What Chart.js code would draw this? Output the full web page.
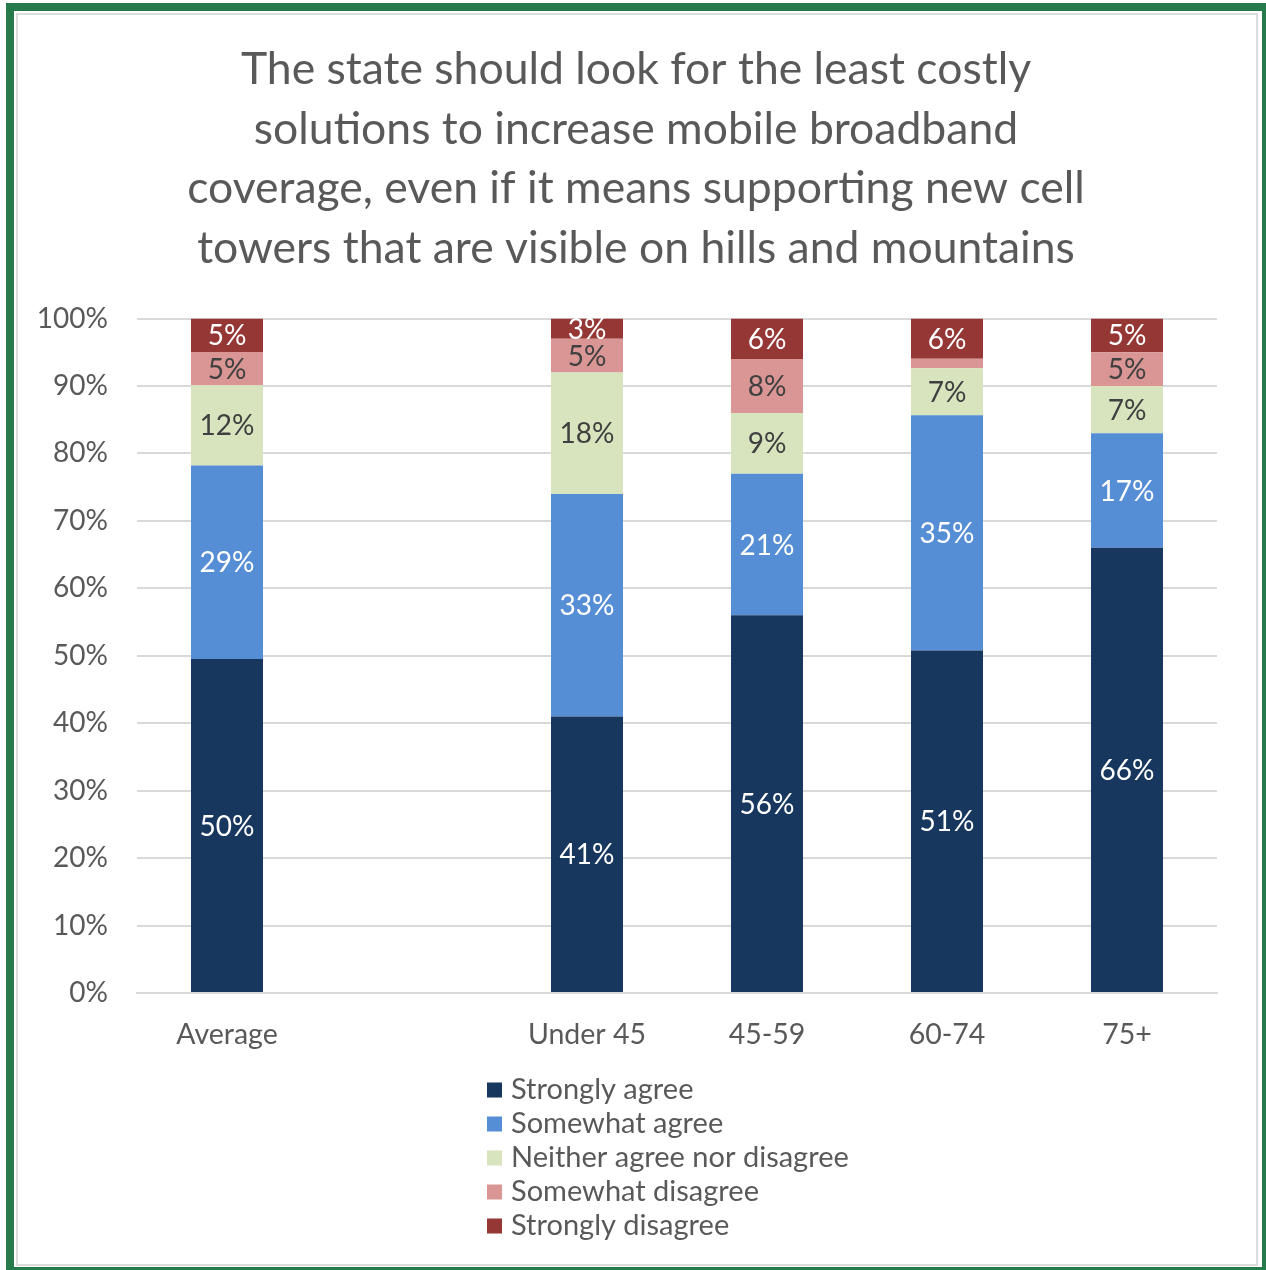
<!DOCTYPE html>
<html>
<head>
<meta charset="utf-8">
<script src="https://cdn.jsdelivr.net/npm/chart.js@4.4.1/dist/chart.umd.min.js"></script>
<style>
  html, body { margin: 0; padding: 0; background: #fff; }
  body { width: 1266px; height: 1270px; position: relative; overflow: hidden; }
  .marco { position: absolute; left: 6px; top: 3px; width: 1264px; height: 1272px;
           box-sizing: border-box; border: 8px solid #267a4c; }
  .interior { position: absolute; left: 16px; top: 13px; width: 1242px; height: 1253px;
              box-sizing: border-box; border: 2px solid #dcdcdc; }
  #grafica { position: absolute; left: 0; top: 0; }
</style>
</head>
<body>
<div class="marco"></div>
<div class="interior"></div>
<canvas id="grafica" width="1266" height="1270"></canvas>
<script>
"use strict";
/* DATOS */
const grupos = ["Average", "", "Under 45", "45-59", "60-74", "75+"];
const muyDeAcuerdo = [50, null, 41, 56, 51, 66];
const algoDeAcuerdo = [29, null, 33, 21, 35, 17];
const neutral = [12, null, 18, 9, 7, 7];
const algoEnDesacuerdo = [5, null, 5, 8, 1.4, 5];
const muyEnDesacuerdo = [5, null, 3, 6, 6, 5];
const marcasEjeY = [0, 10, 20, 30, 40, 50, 60, 70, 80, 90, 100];
const titulo = [
    "The state should look for the least costly",
    "solutions to increase mobile broadband",
    "coverage, even if it means supporting new cell",
    "towers that are visible on hills and mountains"
];

const FUENTE = "Lato, 'Open Sans', sans-serif";
const GRIS_TEXTO = "#595959";

/* 100% APILADO: cada columna se reparte sobre su total */
const series = [muyDeAcuerdo, algoDeAcuerdo, neutral, algoEnDesacuerdo, muyEnDesacuerdo];
const totales = grupos.map((_, i) => series.reduce((s, arr) => s + (arr[i] ?? 0), 0));
function aPorcentaje(arr) {
    return arr.map((v, i) => v === null ? null : v / totales[i] * 100);
}

function dataset(nombre, valores, color, colorTexto) {
    return {
        label: nombre,
        data: aPorcentaje(valores),
        crudos: valores,
        backgroundColor: color,
        colorTexto: colorTexto,
        borderWidth: 0,
        barPercentage: 0.4,
        categoryPercentage: 1.0
    };
}

/* ETIQUETAS DE VALOR */
const etiquetasValor = {
    id: "etiquetasValor",
    afterDatasetsDraw(chart) {
        const ctx = chart.ctx;
        ctx.save();
        ctx.font = "28px " + FUENTE;
        ctx.textAlign = "center";
        ctx.textBaseline = "middle";
        chart.data.datasets.forEach((ds, i) => {
            const meta = chart.getDatasetMeta(i);
            meta.data.forEach((barra, j) => {
                const v = ds.crudos[j];
                if (v === null || v < 2) return;
                ctx.fillStyle = ds.colorTexto;
                ctx.fillText(Math.round(v) + "%", barra.x, (barra.y + barra.base) / 2 + 1);
            });
        });
        ctx.restore();
    }
};

/* LEYENDA VERTICAL */
const leyendaVertical = {
    id: "leyendaVertical",
    afterDraw(chart, args, opts) {
        const ctx = chart.ctx;
        ctx.save();
        ctx.font = opts.tamano + "px " + FUENTE;
        ctx.textBaseline = "middle";
        ctx.textAlign = "left";
        chart.data.datasets.forEach((ds, i) => {
            const y = opts.y + i * opts.salto;
            ctx.fillStyle = ds.backgroundColor;
            ctx.fillRect(opts.x, y - opts.caja / 2, opts.caja, opts.caja);
            ctx.fillStyle = GRIS_TEXTO;
            ctx.fillText(ds.label, opts.x + opts.caja + 9, y);
        });
        ctx.restore();
    }
};

new Chart(document.getElementById("grafica"), {
    type: "bar",
    data: {
        labels: grupos,
        datasets: [
            dataset("Strongly agree", muyDeAcuerdo, "#17375e", "#ffffff"),
            dataset("Somewhat agree", algoDeAcuerdo, "#558ed5", "#ffffff"),
            dataset("Neither agree nor disagree", neutral, "#d7e4bd", "#404040"),
            dataset("Somewhat disagree", algoEnDesacuerdo, "#d99694", "#404040"),
            dataset("Strongly disagree", muyEnDesacuerdo, "#953735", "#ffffff")
        ]
    },
    options: {
        responsive: false,
        animation: false,
        layout: { padding: { left: 6, right: 0, top: 0, bottom: 0 } },
        plugins: {
            legend: { display: false },
            tooltip: { enabled: false },
            title: {
                display: true,
                text: titulo,
                color: GRIS_TEXTO,
                font: { family: FUENTE, size: 44.5, weight: "normal", lineHeight: 1.34 },
                padding: { top: 40, bottom: 40 }
            },
            leyendaVertical: { x: 487, y: 1090, salto: 34, caja: 15, tamano: 29 }
        },
        scales: {
            x: {
                stacked: true,
                grid: { display: false, drawTicks: false },
                border: { display: true, color: "#d9d9d9", width: 2 },
                ticks: { color: GRIS_TEXTO, font: { family: FUENTE, size: 28.5 }, padding: 25 },
                afterFit(scale) { scale.height = 277; }
            },
            y: {
                stacked: true,
                min: 0,
                max: 100,
                afterBuildTicks(scale) { scale.ticks = marcasEjeY.map(v => ({ value: v })); },
                grid: { color: "#d9d9d9", lineWidth: 2, drawTicks: false },
                border: { display: false },
                ticks: {
                    color: GRIS_TEXTO,
                    font: { family: FUENTE, size: 28 },
                    padding: 29,
                    callback: v => v + "%"
                },
                afterFit(scale) { scale.width = 131; }
            },
            // margen derecho vacío, reservado como eje sin marcas
            margen: {
                position: "right",
                grid: { display: false, drawTicks: false },
                border: { display: false },
                ticks: { display: false },
                afterFit(scale) { scale.width = 49; }
            }
        }
    },
    plugins: [etiquetasValor, leyendaVertical]
});
</script>
</body>
</html>
